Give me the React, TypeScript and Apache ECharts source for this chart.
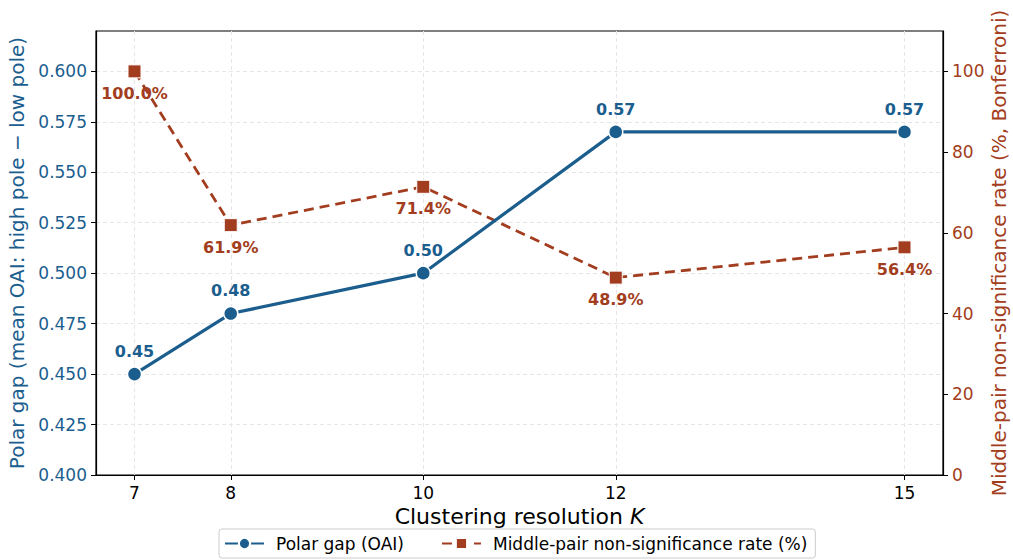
import React, { useEffect, useRef } from "react";
import * as echarts from "echarts";

const kValues = [7, 8, 10, 12, 15];
const polarGap = [0.45, 0.48, 0.5, 0.57, 0.57];
const nonSigRate = [100.0, 61.9, 71.4, 48.9, 56.4];
const leftTicks = [0.4, 0.425, 0.45, 0.475, 0.5, 0.525, 0.55, 0.575, 0.6];

const BLUE = "#1b5e8e";
const RED = "#a33d20";
const FONT = "DejaVu Sans";

export default function App() {
  const ref = useRef<HTMLDivElement>(null);
  useEffect(() => {
    if (!ref.current) return;
    const chart = echarts.init(ref.current, undefined, { renderer: "svg" });
    chart.setOption({
      animation: false,
      textStyle: { fontFamily: FONT },
      grid: {
        left: 96, right: 70, top: 31, bottom: 85,
        outerBoundsMode: "none",
        containLabel: false,
        show: true, borderColor: "#000", borderWidth: 1.2, backgroundColor: "transparent",
      },
      legend: {
        bottom: 2,
        left: 219,
        itemWidth: 39,
        itemHeight: 14,
        itemGap: 37,
        padding: [6, 8, 6, 5],
        borderColor: "#cccccc",
        borderWidth: 1,
        borderRadius: 3,
        textStyle: { fontFamily: FONT, fontSize: 17, color: "#000", padding: [0, 0, 0, 7] },
        data: ["Polar gap (OAI)", "Middle-pair non-significance rate (%)"],
      },
      xAxis: {
        type: "value",
        min: 6.6,
        max: 15.4,
        name: "Clustering resolution {i|K}",
        nameLocation: "middle",
        nameGap: 30,
        nameTextStyle: {
          fontFamily: FONT, fontSize: 22, color: "#000",
          rich: { i: { fontFamily: FONT, fontSize: 22, fontStyle: "italic", color: "#000" } },
        },
        axisLine: { show: true, onZero: false, lineStyle: { color: "#000", width: 1.2 } },
        axisTick: { show: true, customValues: kValues, length: 5, lineStyle: { color: "#000" } },
        axisLabel: { customValues: kValues, fontSize: 17, color: "#000", margin: 9, fontFamily: FONT },
        splitLine: { show: true, lineStyle: { color: "#e6e6e6", type: [4, 3], width: 1 } },
      },
      yAxis: [
        {
          type: "value",
          min: 0.4,
          max: 0.62,
          position: "left",
          name: "Polar gap (mean OAI: high pole \u2212 low pole)",
          nameLocation: "middle",
          nameGap: 68,
          nameTextStyle: { fontFamily: FONT, fontSize: 20, color: BLUE },
          axisLine: { show: true, lineStyle: { color: "#000", width: 1.2 } },
          axisTick: { show: true, customValues: leftTicks, length: 5, lineStyle: { color: "#000" } },
          axisLabel: { customValues: leftTicks, fontSize: 17, color: BLUE, margin: 9, fontFamily: FONT, formatter: (v: number) => v.toFixed(3) },
          splitLine: { show: true, lineStyle: { color: "#e6e6e6", type: [4, 3], width: 1 } },
        },
        {
          type: "value",
          min: 0,
          max: 110,
          interval: 20,
          position: "right",
          name: "Middle-pair non-significance rate (%, Bonferroni)",
          nameLocation: "middle",
          nameGap: 46,
          nameMoveOverlap: false,
          nameRotate: 90,
          nameTextStyle: { fontFamily: FONT, fontSize: 20, color: RED },
          axisLine: { show: true, lineStyle: { color: "#000", width: 1.2 } },
          axisTick: { show: true, length: 5, lineStyle: { color: "#000" } },
          axisLabel: { fontSize: 17, color: RED, margin: 9, fontFamily: FONT, showMaxLabel: false },
          splitLine: { show: false },
        },
      ],
      series: [
        {
          name: "Polar gap (OAI)",
          type: "line",
          yAxisIndex: 0,
          data: kValues.map((k, i) => [k, polarGap[i]]),
          symbol: "circle",
          symbolSize: 14,
          itemStyle: { color: BLUE, borderColor: "#fff", borderWidth: 1.5 },
          lineStyle: { color: BLUE, width: 3.2 },
          label: {
            show: true, position: "top", distance: 7,
            fontFamily: FONT, fontSize: 16, fontWeight: "bold", color: BLUE,
            formatter: (p: any) => polarGap[p.dataIndex].toFixed(2),
          },
          z: 3,
        },
        {
          name: "Middle-pair non-significance rate (%)",
          type: "line",
          yAxisIndex: 1,
          data: kValues.map((k, i) => [k, nonSigRate[i]]),
          symbol: "rect",
          symbolSize: 13,
          itemStyle: { color: RED, borderColor: "#fff", borderWidth: 1 },
          lineStyle: { color: RED, width: 2.8, type: [10, 6] },
          label: {
            show: true, position: "bottom", distance: 7,
            fontFamily: FONT, fontSize: 16, fontWeight: "bold", color: RED,
            formatter: (p: any) => nonSigRate[p.dataIndex].toFixed(1) + "%",
          },
          z: 2,
        },
      ],
    });
    return () => chart.dispose();
  }, []);
  return <div ref={ref} style={{ width: 1013, height: 560, position: "absolute", left: 0, top: 0 }} />;
}
